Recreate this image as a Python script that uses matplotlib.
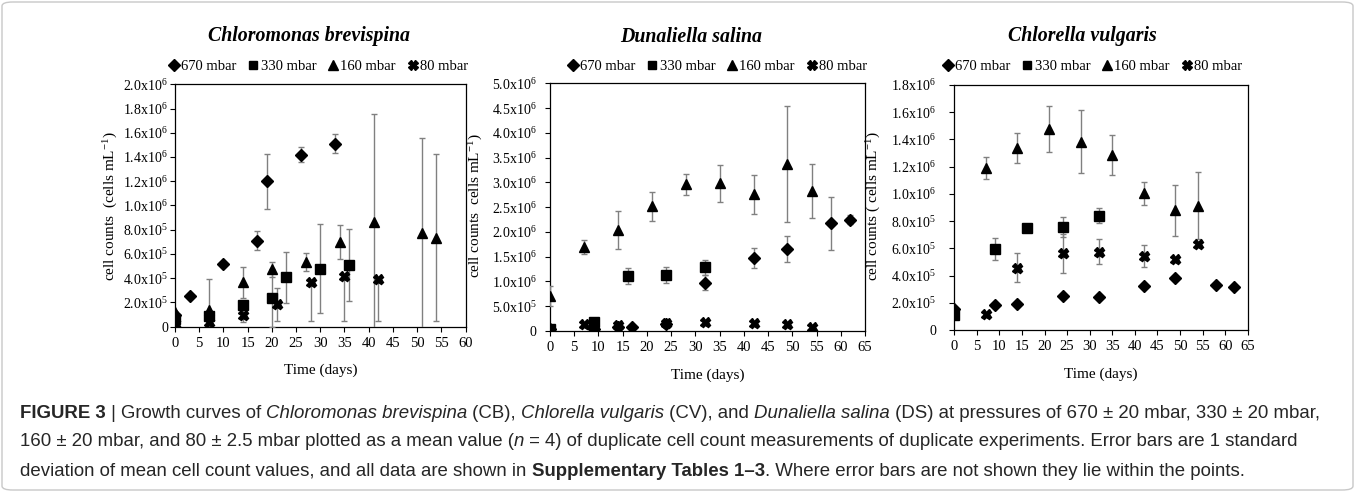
import numpy as np
import matplotlib
matplotlib.use("Agg")
import matplotlib.pyplot as plt
from matplotlib import font_manager
from matplotlib.patches import FancyBboxPatch
from matplotlib.lines import Line2D

# ---- data (cells mL-1 vs days) ----
SERIES = ["670 mbar", "330 mbar", "160 mbar", "80 mbar"]

# Chloromonas brevispina
CB_670_DAYS = [0, 3, 10, 17, 19, 26, 33]
CB_670 = [1.0e5, 2.5e5, 5.2e5, 7.1e5, 1.20e6, 1.42e6, 1.51e6]
CB_670_ERR = [0, 0, 0, 0.78e5, 2.26e5, 0.65e5, 0.8e5]
CB_330_DAYS = [0, 7, 14, 20, 23, 30, 36]
CB_330 = [0.6e5, 0.9e5, 1.8e5, 2.4e5, 4.07e5, 4.8e5, 5.1e5]
CB_330_ERR = [0, 0, 0, 2.4e5, 2.1e5, 3.7e5, 3.0e5]
CB_160_DAYS = [0, 7, 14, 20, 27, 34, 41, 51, 54]
CB_160 = [1.2e5, 1.38e5, 3.66e5, 4.73e5, 5.36e5, 7.0e5, 8.66e5, 7.7e5, 7.34e5]
CB_160_ERR = [0, 2.55e5, 1.3e5, 0.63e5, 0.76e5, 1.4e5, 8.9e5, 7.9e5, 6.9e5]
CB_80_DAYS = [0, 7, 14, 21, 28, 35, 42]
CB_80 = [0.3e5, 0.4e5, 1.0e5, 1.84e5, 3.71e5, 4.18e5, 3.93e5]
CB_80_ERR_LO = [0, 0, 0.6e5, 1.35e5, 3.2e5, 3.7e5, 3.5e5]
CB_80_ERR_HI = [0, 0, 0.6e5, 1.35e5, 0, 0, 0]

# Dunaliella salina
DS_670_DAYS = [0, 9, 14, 17, 24, 32, 42, 49, 58, 62]
DS_670 = [0.5e5, 0.5e5, 0.8e5, 0.74e5, 1.5e5, 9.76e5, 1.48e6, 1.655e6, 2.17e6, 2.25e6]
DS_670_ERR = [0, 0, 0, 0, 0, 1.5e5, 2.0e5, 2.7e5, 5.25e5, 0.9e5]
DS_330_DAYS = [0, 9, 16, 24, 32]
DS_330 = [0.5e5, 1.75e5, 1.11e6, 1.13e6, 1.285e6]
DS_330_ERR = [0, 0, 1.58e5, 1.7e5, 1.5e5]
DS_160_DAYS = [0, 7, 14, 21, 28, 35, 42, 49, 54]
DS_160 = [7.1e5, 1.70e6, 2.04e6, 2.52e6, 2.96e6, 2.98e6, 2.76e6, 3.38e6, 2.83e6]
DS_160_ERR = [2.0e5, 1.45e5, 3.9e5, 2.9e5, 2.15e5, 3.77e5, 3.9e5, 1.17e6, 5.5e5]
DS_80_DAYS = [7, 14, 24, 32, 42, 49, 54]
DS_80 = [1.35e5, 1.2e5, 1.55e5, 1.75e5, 1.55e5, 1.48e5, 0.87e5]
DS_80_ERR = [0, 0, 0, 0, 0, 0, 0]

# Chlorella vulgaris
CV_670_DAYS = [0, 9, 14, 24, 32, 42, 49, 58, 62]
CV_670 = [1.55e5, 1.84e5, 1.89e5, 2.5e5, 2.45e5, 3.23e5, 3.84e5, 3.3e5, 3.18e5]
CV_670_ERR = [0, 0, 0, 0, 0, 0, 0, 0, 0]
CV_330_DAYS = [0, 9, 16, 24, 32]
CV_330 = [1.1e5, 5.95e5, 7.52e5, 7.59e5, 8.4e5]
CV_330_ERR = [0, 0.8e5, 0.3e5, 0.73e5, 0.55e5]
CV_160_DAYS = [7, 14, 21, 28, 35, 42, 49, 54]
CV_160 = [1.193e6, 1.34e6, 1.477e6, 1.384e6, 1.286e6, 1.004e6, 0.88e6, 0.913e6]
CV_160_ERR = [0.8e5, 1.11e5, 1.71e5, 2.33e5, 1.46e5, 0.86e5, 1.86e5, 2.47e5]
CV_80_DAYS = [7, 14, 24, 32, 42, 49, 54]
CV_80 = [1.18e5, 4.58e5, 5.63e5, 5.76e5, 5.44e5, 5.22e5, 6.32e5]
CV_80_ERR = [0, 1.07e5, 1.41e5, 0.93e5, 0.8e5, 0, 0]

TITLES = ["Chloromonas brevispina", "Dunaliella salina", "Chlorella vulgaris"]
YLABELS = ["cell counts  (cells mL$^{-1}$)", "cell counts  cells mL$^{-1}$)",
           "cell counts ( cells mL$^{-1}$)"]
XMAX = [60, 65, 65]
YMAX = [2.0e6, 5.0e6, 1.8e6]
YSTEP = [2.0e5, 5.0e5, 2.0e5]

CAPTION = [
    [("FIGURE 3", "b"), (" | ", "n"), ("Growth curves of ", "n"), ("Chloromonas brevispina", "i"),
     (" (CB), ", "n"), ("Chlorella vulgaris", "i"), (" (CV), and ", "n"), ("Dunaliella salina", "i"),
     (" (DS) at pressures of 670 \u00b1 20 mbar, 330 \u00b1 20 mbar,", "n")],
    [("160 \u00b1 20 mbar, and 80 \u00b1 2.5 mbar plotted as a mean value (", "n"), ("n", "i"),
     (" = 4) of duplicate cell count measurements of duplicate experiments. Error bars are 1 standard", "n")],
    [("deviation of mean cell count values, and all data are shown in ", "n"),
     ("Supplementary Tables 1\u20133", "b"),
     (". Where error bars are not shown they lie within the points.", "n")],
]

W, H = 1355, 492
plt.rcParams['font.family'] = ['Liberation Serif', 'DejaVu Serif']
plt.rcParams['mathtext.fontset'] = 'custom'
plt.rcParams['mathtext.rm'] = 'Liberation Serif'
plt.rcParams['mathtext.it'] = 'Liberation Serif:italic'

MARKERS = {"670 mbar": ("D", 6.2), "330 mbar": ("s", 6.8), "160 mbar": ("^", 7.4), "80 mbar": ("X", 7.2)}
ERR_COLOR = "#808080"


def sci_label(v):
    v = round(v, -3)
    if v == 0:
        return "0"
    e = int(np.floor(np.log10(v) + 1e-9))
    return r"$\mathregular{%.1fx10^{%d}}$" % (v / 10 ** e, e)


fig = plt.figure(figsize=(W / 100, H / 100), dpi=100)

# axes boxes in pixels: left, top, right, bottom
boxes = [(175, 84.3, 465.5, 326.7), (550, 83.3, 865, 331), (954.3, 85, 1247.7, 330)]
title_x = [309, 691, 1082]
legend_x = [318, 717, 1092]
ylab_x = [120, 485, 883]
ypads = [1.5, 6.0, 9.5]

panels = [
    [(CB_670_DAYS, CB_670, CB_670_ERR), (CB_330_DAYS, CB_330, CB_330_ERR),
     (CB_160_DAYS, CB_160, CB_160_ERR), (CB_80_DAYS, CB_80, [CB_80_ERR_LO, CB_80_ERR_HI])],
    [(DS_670_DAYS, DS_670, DS_670_ERR), (DS_330_DAYS, DS_330, DS_330_ERR),
     (DS_160_DAYS, DS_160, DS_160_ERR), (DS_80_DAYS, DS_80, DS_80_ERR)],
    [(CV_670_DAYS, CV_670, CV_670_ERR), (CV_330_DAYS, CV_330, CV_330_ERR),
     (CV_160_DAYS, CV_160, CV_160_ERR), (CV_80_DAYS, CV_80, CV_80_ERR)],
]

for i, data in enumerate(panels):
    l, t, r, b = boxes[i]
    ax = fig.add_axes([l / W, 1 - b / H, (r - l) / W, (b - t) / H])
    for k, (x, y, err) in enumerate(data):
        m, ms = MARKERS[SERIES[k]]
        ax.errorbar(x, y, yerr=err, fmt="none", ecolor=ERR_COLOR, elinewidth=1.0,
                    capsize=2.4, capthick=1.0, zorder=2 + k)
        ax.plot(x, y, ls="none", marker=m, ms=ms, color="black", mec="black", zorder=10 + k)
    ax.set_xlim(0, XMAX[i])
    ax.set_ylim(0, YMAX[i])
    ax.set_xticks(np.arange(0, XMAX[i] + 1, 5))
    yt = np.arange(0, YMAX[i] + YSTEP[i] / 2, YSTEP[i])
    ax.set_yticks(yt)
    ax.set_yticklabels([sci_label(v) for v in yt])
    ax.tick_params(axis="both", direction="out", length=3.5, width=0.8, labelsize=10, color="black")
    ax.tick_params(axis="x", pad=4, labelsize=10.5)
    ax.tick_params(axis="y", pad=ypads[i])
    for s in ax.spines.values():
        s.set_linewidth(0.9)
        s.set_color("black")
    ax.set_xlabel("Time (days)", fontsize=11)
    ax.xaxis.set_label_coords(0.5, -0.153)
    ax.set_ylabel(YLABELS[i], fontsize=11)
    cy = 206
    ax.yaxis.set_label_coords((ylab_x[i] - l) / (r - l), (b - cy) / (b - t))

    fig.text(title_x[i] / W, 1 - 36.5 / H, TITLES[i], ha="center", va="center",
             fontsize=14.3, fontweight="bold", fontstyle="italic")
    handles = [Line2D([], [], ls="none", marker=MARKERS[s][0], ms=MARKERS[s][1] * 0.95, color="black")
               for s in SERIES]
    fig.legend(handles, SERIES, loc="center", bbox_to_anchor=(legend_x[i] / W, 1 - 66 / H),
               ncol=4, frameon=False, fontsize=10.5, handlelength=0.8, handletextpad=0.1,
               columnspacing=0.75, borderaxespad=0, borderpad=0)

# ---- caption ----
def pick_font():
    for name in ["Liberation Sans Narrow", "Liberation Sans"]:
        try:
            font_manager.findfont(name, fallback_to_default=False)
            return name
        except Exception:
            continue
    return "DejaVu Sans"


CAP_FONT = pick_font()
CAP_COLOR = "#262626"
renderer = fig.canvas.get_renderer()


def font_kw(style, size):
    kw = dict(fontsize=size, family=CAP_FONT, color=CAP_COLOR, ha="left", va="center")
    if style == "b":
        kw["fontweight"] = "bold"
    if style == "i":
        kw["fontstyle"] = "italic"
    return kw


def advance(txt, style, size):
    t1 = fig.text(0, 0, txt + "|", **font_kw(style, size))
    t2 = fig.text(0, 0, "|", **font_kw(style, size))
    w = t1.get_window_extent(renderer).width - t2.get_window_extent(renderer).width
    t1.remove()
    t2.remove()
    return w


base = 10.0
w1 = sum(advance(s, st, base) for s, st in CAPTION[0])
cap_size = base * (1322 - 20) / w1
for row, ypix in zip(CAPTION, [413, 442, 471]):
    x = 20.0
    for s, st in row:
        fig.text(x / W, 1 - ypix / H, s, **font_kw(st, cap_size))
        x += advance(s, st, cap_size)

fig.patches.append(FancyBboxPatch((2 / W, 2 / H), 1 - 4 / W, 1 - 4 / H,
                                  boxstyle="round,pad=0,rounding_size=0.008",
                                  transform=fig.transFigure, fill=False, ec="#c8c8c8", lw=1.0))

fig.savefig("out.png", dpi=100)
